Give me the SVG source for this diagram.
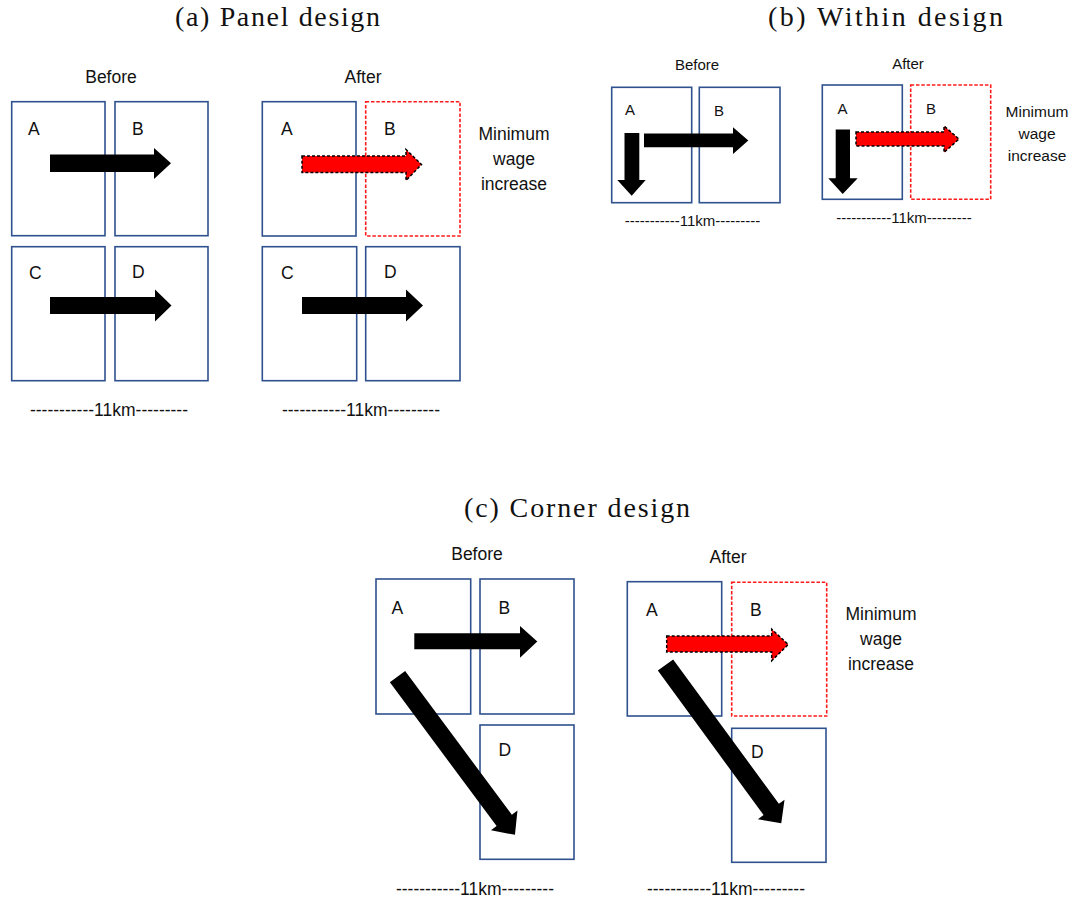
<svg xmlns="http://www.w3.org/2000/svg" width="1075" height="903" viewBox="0 0 1075 903">
<style>
.bg{fill:#ffffff}
.title{font-family:"Liberation Serif","Times New Roman",serif;font-size:28px;fill:#111}
.lab{font-family:"Liberation Sans",Arial,sans-serif;font-size:17.5px;fill:#111}
.labs{font-family:"Liberation Sans",Arial,sans-serif;font-size:15px;fill:#111}
.mid{text-anchor:middle}
.box{fill:none;stroke:#2F528F;stroke-width:1.6}
.rbox{fill:none;stroke:#FF1A1A;stroke-width:1.6;stroke-dasharray:3.5 1.8}
.barrow{fill:#000000;stroke:none}
.rarrow{fill:#FF0000;stroke:#000000;stroke-width:1.5;stroke-dasharray:3 2}
</style>
<rect class="bg" x="0" y="0" width="1075" height="903"/>

<!-- Titles -->
<text class="title" x="175" y="26" textLength="205">(a) Panel design</text>
<text class="title" x="768" y="26" textLength="235">(b) Within design</text>
<text class="title" x="464" y="517" textLength="226">(c) Corner design</text>

<!-- Panel (a) -->
<g id="a-before">
  <text class="lab mid" x="111" y="83">Before</text>
  <text class="lab mid" x="109" y="416">-----------11km---------</text>
</g>
<g id="a-before-A"><rect class="box" x="11.7" y="101.7" width="93.3" height="134"/><text class="lab" x="28" y="135">A</text></g>
<g id="a-before-B"><rect class="box" x="115" y="101.7" width="93" height="134"/><text class="lab" x="132" y="135">B</text></g>
<g id="a-before-C"><rect class="box" x="11.7" y="246.7" width="93.3" height="134"/><text class="lab" x="29" y="279">C</text></g>
<g id="a-before-D"><rect class="box" x="115" y="246.7" width="93" height="134"/><text class="lab" x="132" y="278">D</text></g>

<g id="a-after">
  <text class="lab mid" x="363" y="83">After</text>
  <text class="lab mid" x="361" y="416">-----------11km---------</text>
  <text class="lab mid" x="514" y="140">Minimum</text>
  <text class="lab mid" x="514" y="165">wage</text>
  <text class="lab mid" x="514" y="190">increase</text>
</g>
<g id="a-after-A"><rect class="box" x="262.3" y="101.7" width="93.7" height="134.3"/><text class="lab" x="281" y="135">A</text></g>
<g id="a-after-B"><rect class="rbox" x="365.7" y="101.7" width="94.3" height="134.3"/><text class="lab" x="384" y="135">B</text></g>
<g id="a-after-C"><rect class="box" x="262.3" y="246.7" width="94.4" height="134"/><text class="lab" x="281" y="279">C</text></g>
<g id="a-after-D"><rect class="box" x="365.7" y="246.7" width="94.3" height="134"/><text class="lab" x="384" y="278">D</text></g>

<!-- Panel (b) -->
<g id="b-before">
  <text class="labs mid" x="697" y="70">Before</text>
  <text class="labs mid" x="692.5" y="226">-----------11km---------</text>
</g>
<g id="b-before-A"><rect class="box" x="611.7" y="87.3" width="80" height="115.4"/><text class="labs" x="625" y="115">A</text></g>
<g id="b-before-B"><rect class="box" x="699.3" y="87.3" width="80.7" height="115.4"/><text class="labs" x="714" y="116">B</text></g>

<g id="b-after">
  <text class="labs mid" x="908" y="68.5">After</text>
  <text class="labs mid" x="904" y="223">-----------11km---------</text>
  <text class="labs mid" x="1037" y="117" style="font-size:15.5px">Minimum</text>
  <text class="labs mid" x="1037" y="139" style="font-size:15.5px">wage</text>
  <text class="labs mid" x="1037" y="161" style="font-size:15.5px">increase</text>
</g>
<g id="b-after-A"><rect class="box" x="822.3" y="85" width="80" height="114.3"/><text class="labs" x="837.5" y="114">A</text></g>
<g id="b-after-B"><rect class="rbox" x="910.7" y="85" width="80" height="114.3"/><text class="labs" x="926" y="114">B</text></g>

<!-- Panel (c) -->
<g id="c-before">
  <text class="lab mid" x="477" y="560">Before</text>
  <text class="lab mid" x="475" y="895">-----------11km---------</text>
</g>
<g id="c-before-A"><rect class="box" x="376" y="579" width="94.7" height="135"/><text class="lab" x="391.5" y="614">A</text></g>
<g id="c-before-B"><rect class="box" x="480" y="579" width="94" height="135"/><text class="lab" x="498.5" y="614">B</text></g>
<g id="c-before-D"><rect class="box" x="480" y="725" width="94" height="134.3"/><text class="lab" x="498.5" y="756">D</text></g>

<g id="c-after">
  <text class="lab mid" x="728" y="563">After</text>
  <text class="lab mid" x="726" y="895">-----------11km---------</text>
  <text class="lab mid" x="881" y="620">Minimum</text>
  <text class="lab mid" x="881" y="645">wage</text>
  <text class="lab mid" x="881" y="670">increase</text>
</g>
<g id="c-after-A"><rect class="box" x="627.3" y="581.7" width="94.4" height="134.3"/><text class="lab" x="646" y="616">A</text></g>
<g id="c-after-B"><rect class="rbox" x="731.7" y="582.3" width="95" height="133.7"/><text class="lab" x="750" y="616">B</text></g>
<g id="c-after-D"><rect class="box" x="731.7" y="728.3" width="94.3" height="134"/><text class="lab" x="751" y="758">D</text></g>

<!-- Connectors (block arrows) -->
<g id="connectors">
  <path class="barrow" d="M50,154.5 H154 V148 L171,163.3 L154,179 V172 H50 Z"/>
  <path class="barrow" d="M50,297 H155 V289.5 L171.5,305.5 L155,321.5 V314 H50 Z"/>
  <path class="rarrow" d="M302,156 H406 V149.5 L421.5,164.5 L406,180.5 V172.5 H302 Z"/>
  <path class="barrow" d="M302,297 H406 V289.5 L423,305.5 L406,321.5 V314 H302 Z"/>

  <path class="barrow" d="M644,133.5 H733 V127.3 L748.3,140.5 L733,154 V147.3 H644 Z"/>
  <path class="barrow" d="M624.5,133 H639.3 V180 H645.7 L631.7,195.7 L617.3,180 H624.5 Z"/>
  <path class="rarrow" d="M856,132 H944 V126 L959,139 L944,152.5 V146 H856 Z"/>
  <path class="barrow" d="M835.7,129.5 H850 V178.3 H857.7 L842.7,194 L828.3,178.3 H835.7 Z"/>

  <path class="barrow" d="M414.3,633.3 H520 V626 L537.3,641.5 L520,657.7 V649.3 H414.3 Z"/>
  <path class="barrow" transform="translate(397.5,676.7) rotate(53.4)" d="M0,-9.5 H179 V-16.5 L197,0 L179,16.5 V9.5 H0 Z"/>
  <path class="rarrow" d="M666.7,636 H771.7 V629.3 L788.3,644.5 L771.7,660.7 V652 H666.7 Z"/>
  <path class="barrow" transform="translate(665.5,665) rotate(53.8)" d="M0,-9.5 H179 V-16.5 L196,0 L179,16.5 V9.5 H0 Z"/>
</g>
</svg>
